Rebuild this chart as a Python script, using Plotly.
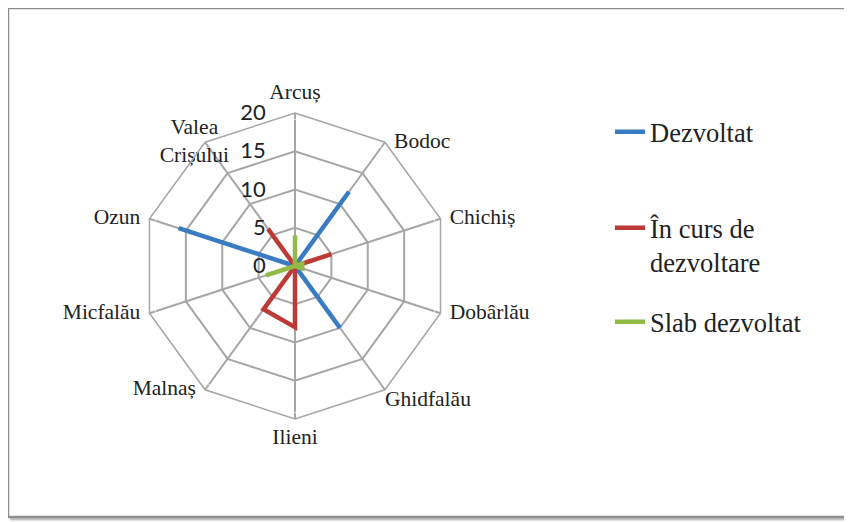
import plotly.graph_objects as go

# comune (categorii) si valori pe nivel de dezvoltare
comune = ['Arcuș', 'Bodoc', 'Chichiș', 'Dobârlău', 'Ghidfalău', 'Ilieni',
          'Malnaș', 'Micfalău', 'Ozun', 'Valea Crișului']
dezvoltat = [0, 12, 0, 0, 10, 0, 0, 0, 16, 0]
in_curs = [0, 0, 5, 0, 0, 8, 7, 0, 0, 6]
slab = [4, 0, 1, 1, 0, 0, 0, 4, 0, 0]
radial_ticks = [0, 5, 10, 15, 20]
r_max = 20

# pagina are margine 8px -> figura ocupa 844x514
W, H = 844, 514
OFF = 8


def px(x):
    return (x - OFF) / W


def py(y):
    return 1 - (y - OFF) / H


serii = [
    ('Dezvoltat', dezvoltat, '#3A7CC2', 'legend', 108),
    ('În curs de<br>dezvoltare', in_curs, '#BE3B35', 'legend2', 204),
    ('Slab dezvoltat', slab, '#92BA47', 'legend3', 298),
]

serif = 'Liberation Serif, Times New Roman, serif'
ascuns = "<span style='color:rgba(0,0,0,0)'>00</span>"

fig = go.Figure()
leg_layout = {}
for nume, vals, culoare, leg, ytop in serii:
    fig.add_trace(go.Scatterpolar(
        r=vals + vals[:1],
        theta=comune + comune[:1],
        mode='lines',
        name=nume,
        legend=leg,
        line=dict(color=culoare, width=4.5),
    ))
    leg_layout[leg] = dict(
        x=px(610), y=py(ytop), xanchor='left', yanchor='top',
        font=dict(family=serif, size=26.5, color='#222'),
        valign='top', bgcolor='rgba(0,0,0,0)',
    )

# etichetele comunelor la varfurile poligonului;
# markerul transparent da distanta textului fata de varf
etichete = list(comune)
etichete[-1] = 'Valea' + ascuns + '<br>Crișului' + ascuns
fig.add_trace(go.Scatterpolar(
    r=[r_max] * len(comune),
    theta=comune,
    mode='markers+text',
    text=etichete,
    marker=dict(size=[13, 13, 13, 13, 0, 13, 13, 13, 13, 13],
                color='rgba(0,0,0,0)'),
    textposition=['top center', 'middle right', 'middle right', 'middle right',
                  'bottom right', 'bottom center', 'middle left', 'middle left',
                  'middle left', 'middle center'],
    textfont=dict(family=serif, size=21.5, color='#222'),
    showlegend=False,
    hoverinfo='skip',
    cliponaxis=False,
))

# eticheta radiala + cifre transparente ca sa o departeze de axa
radial_text = [f'{v}{ascuns}' for v in radial_ticks]

fig.update_layout(
    width=W, height=H,
    margin=dict(l=0, r=0, t=0, b=0),
    paper_bgcolor='white',
    polar=dict(
        domain=dict(x=[px(142), px(448)], y=[py(419), py(113)]),
        bgcolor='white',
        gridshape='linear',
        radialaxis=dict(
            range=[0, r_max], tickvals=radial_ticks, ticktext=radial_text,
            angle=90, tickangle=90,
            side='counterclockwise', showline=False, ticks='',
            gridcolor='#A6A6A6', gridwidth=1.5,
            tickfont=dict(family='Lato', size=22, color='#222'),
        ),
        angularaxis=dict(
            direction='clockwise', rotation=90,
            linecolor='#A6A6A6', linewidth=1.5,
            gridcolor='#A6A6A6', gridwidth=1.5, ticks='',
            showticklabels=False,
        ),
    ),
    shapes=[
        # umbra jos / dreapta
        dict(type='line', xref='paper', yref='paper',
             x0=px(10), x1=px(851), y0=py(519), y1=py(519),
             line=dict(color='#C4C4C4', width=3)),
        dict(type='line', xref='paper', yref='paper',
             x0=px(851), x1=px(851), y0=py(10), y1=py(519),
             line=dict(color='#C4C4C4', width=3)),
        # chenar
        dict(type='rect', xref='paper', yref='paper',
             x0=px(8), x1=px(849), y0=py(517), y1=py(8),
             line=dict(color='#8E8E8E', width=2.5)),
    ],
    **leg_layout,
)

fig.write_html('out.html')
